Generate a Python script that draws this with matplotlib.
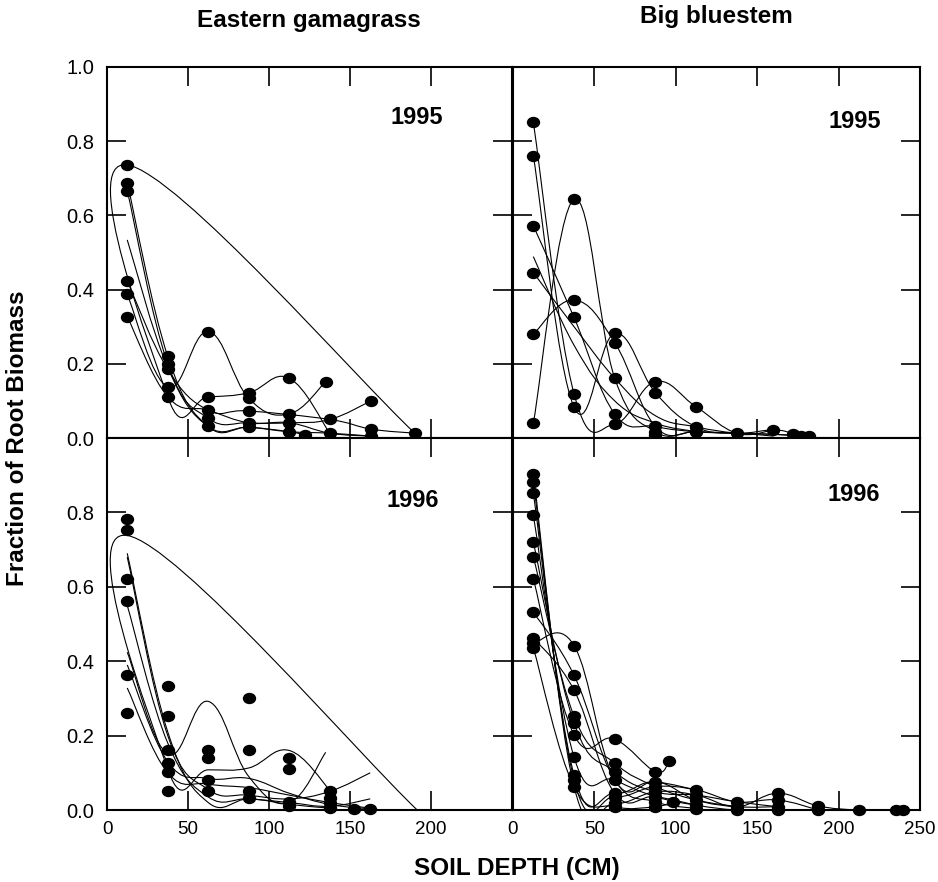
import numpy as np
import matplotlib
matplotlib.use("Agg")
import matplotlib.pyplot as plt
from matplotlib.path import Path
from matplotlib.patches import PathPatch
import matplotlib.transforms as mtransforms

plt.rcParams['font.family'] = ['Liberation Sans', 'DejaVu Sans']

# ---- Eastern gamagrass 1995 ----
eg95_dot_x = [12.5] * 6 + [37.5] * 5 + [62.5] * 5 + [87.5] * 5 + [112.5] * 4 + [122, 135, 137.5, 137.5, 163, 163, 163, 190]
eg95_dot_y = [0.736, 0.688, 0.667, 0.423, 0.387, 0.327,
              0.22, 0.20, 0.185, 0.137, 0.111,
              0.287, 0.111, 0.075, 0.053, 0.031,
              0.122, 0.107, 0.073, 0.041, 0.029,
              0.161, 0.065, 0.041, 0.017,
              0.008, 0.152, 0.05, 0.013, 0.1, 0.024, 0.005, 0.013]
eg95_lines = [
    ([190, 12.5, 37.5, 62.5, 87.5, 112.5, 137.5], [0.013, 0.736, 0.111, 0.111, 0.122, 0.161, 0.013]),
    ([12.5, 37.5, 62.5, 87.5, 112.5, 122], [0.688, 0.22, 0.031, 0.029, 0.017, 0.008]),
    ([12.5, 37.5, 62.5, 87.5, 112.5, 137.5, 163], [0.667, 0.20, 0.053, 0.041, 0.041, 0.05, 0.1]),
    ([12.5, 37.5, 62.5, 87.5, 112.5, 135], [0.387, 0.137, 0.287, 0.107, 0.065, 0.152]),
    ([12.5, 37.5, 62.5, 87.5, 137.5, 163, 190], [0.423, 0.185, 0.075, 0.073, 0.05, 0.024, 0.013]),
    ([12.5, 37.5, 62.5, 87.5, 112.5, 137.5, 163], [0.327, 0.111, 0.075, 0.041, 0.041, 0.013, 0.005]),
    ([12.5, 37.5, 62.5, 87.5, 112.5, 137.5, 163], [0.534, 0.19, 0.031, 0.029, 0.017, 0.013, 0.005]),
]

# ---- Eastern gamagrass 1996 ----
eg96_dot_x = [12.5] * 6 + [37.5] * 6 + [62.5] * 4 + [87.5] * 4 + [112.5] * 4 + [137.5] * 4 + [152.5, 162.5]
eg96_dot_y = [0.782, 0.752, 0.62, 0.561, 0.362, 0.262,
              0.332, 0.252, 0.162, 0.126, 0.103, 0.052,
              0.162, 0.141, 0.081, 0.052,
              0.301, 0.162, 0.052, 0.031,
              0.141, 0.11, 0.022, 0.012,
              0.052, 0.031, 0.018, 0.005,
              0.002, 0.002]
eg96_lines = [
    ([191.5, 12.5, 37.5, 62.5, 87.5, 112.5, 137.5], [0.0, 0.738, 0.11, 0.108, 0.113, 0.16, 0.054]),
    ([12.5, 37.5, 62.5, 87.5, 112.5, 137.5], [0.69, 0.21, 0.02, 0.03, 0.015, 0.005]),
    ([12.5, 37.5, 62.5, 87.5, 112.5, 137.5, 162.5], [0.68, 0.2, 0.055, 0.04, 0.03, 0.05, 0.1]),
    ([12.5, 37.5, 62.5, 87.5, 112.5, 135], [0.424, 0.15, 0.292, 0.09, 0.02, 0.155]),
    ([12.5, 37.5, 62.5, 87.5, 112.5, 137.5, 162.5], [0.39, 0.13, 0.085, 0.085, 0.045, 0.015, 0.003]),
    ([12.5, 37.5, 62.5, 87.5, 112.5, 137.5, 162.5], [0.328, 0.1, 0.07, 0.06, 0.04, 0.02, 0.005]),
    ([12.5, 37.5, 62.5, 87.5, 112.5, 137.5, 162.5], [0.55, 0.18, 0.035, 0.03, 0.02, 0.01, 0.03]),
]

# ---- Big bluestem 1995 ----
bb95_dot_x = [12.5] * 6 + [37.5] * 5 + [62.5] * 5 + [87.5] * 5 + [112.5] * 3 + [137.5, 160, 172, 177, 182]
bb95_dot_y = [0.851, 0.761, 0.572, 0.446, 0.28, 0.04,
              0.643, 0.372, 0.325, 0.119, 0.083,
              0.282, 0.257, 0.161, 0.065, 0.038,
              0.152, 0.122, 0.031, 0.017, 0.008,
              0.084, 0.03, 0.017,
              0.013, 0.022, 0.012, 0.005, 0.005]
bb95_lines = [
    ([12.5, 37.5, 62.5, 87.5, 112.5, 137.5], [0.04, 0.643, 0.161, 0.017, 0.017, 0.013]),
    ([12.5, 37.5, 62.5, 87.5, 112.5, 137.5, 160], [0.851, 0.119, 0.038, 0.152, 0.084, 0.013, 0.022]),
    ([12.5, 37.5, 62.5, 87.5, 112.5, 137.5, 160, 172], [0.761, 0.083, 0.282, 0.122, 0.03, 0.013, 0.022, 0.012]),
    ([12.5, 37.5, 62.5, 87.5, 112.5, 137.5, 160], [0.572, 0.325, 0.065, 0.031, 0.017, 0.013, 0.005]),
    ([12.5, 37.5, 62.5, 87.5, 112.5, 137.5, 160, 177], [0.28, 0.372, 0.257, 0.031, 0.017, 0.013, 0.01, 0.005]),
    ([12.5, 37.5, 62.5, 87.5, 112.5, 137.5, 160, 182], [0.446, 0.30, 0.161, 0.06, 0.03, 0.013, 0.01, 0.005]),
    ([12.5, 37.5, 62.5, 87.5, 112.5], [0.489, 0.25, 0.1, 0.04, 0.017]),
]

# ---- Big bluestem 1996 ----
bb96_dot_x = ([12.5] * 11 + [37.5] * 10 + [62.5] * 8 + [87.5] * 7 + [96, 98] + [112.5] * 5
              + [137.5] * 3 + [162.5] * 4 + [187.5] * 2 + [212.5, 235.5, 239.5])
bb96_dot_y = [0.903, 0.882, 0.852, 0.792, 0.72, 0.681, 0.622, 0.532, 0.463, 0.449, 0.436,
              0.442, 0.362, 0.322, 0.252, 0.234, 0.202, 0.142, 0.094, 0.081, 0.063,
              0.191, 0.126, 0.103, 0.081, 0.045, 0.036, 0.018, 0.009,
              0.103, 0.076, 0.063, 0.049, 0.036, 0.022, 0.009,
              0.133, 0.022,
              0.054, 0.04, 0.027, 0.013, 0.004,
              0.022, 0.009, 0.0,
              0.045, 0.027, 0.009, 0.0,
              0.011, 0.0,
              0.0, 0.0, 0.0]
depths = [12.5, 37.5, 62.5, 87.5, 112.5, 137.5, 162.5, 187.5, 212.5, 237.5]
bb96_lines = [
    (depths, [0.903, 0.063, 0.018, 0.049, 0.040, 0.009, 0.045, 0.011, 0.0, 0.0]),
    (depths[:8], [0.882, 0.081, 0.036, 0.063, 0.054, 0.022, 0.027, 0.0]),
    (depths[:7], [0.852, 0.094, 0.045, 0.076, 0.027, 0.009, 0.009]),
    (depths[:7], [0.792, 0.142, 0.081, 0.036, 0.013, 0.0, 0.0]),
    (depths[:7], [0.72, 0.234, 0.103, 0.049, 0.040, 0.022, 0.009]),
    (depths[:6], [0.681, 0.252, 0.126, 0.063, 0.027, 0.009]),
    ([12.5, 37.5, 62.5, 87.5, 96], [0.622, 0.202, 0.191, 0.103, 0.133]),
    (depths[:5], [0.532, 0.362, 0.081, 0.022, 0.004]),
    (depths[:5], [0.463, 0.322, 0.045, 0.036, 0.013]),
    (depths[:5], [0.449, 0.442, 0.081, 0.076, 0.054]),
    ([12.5, 37.5, 62.5, 87.5, 98], [0.436, 0.063, 0.009, 0.009, 0.022]),
]


def smooth_path(xs, ys, k=0.2):
    # catmull-rom style curve through the points, drawn as bezier segments
    pts = np.column_stack([xs, ys]).astype(float)
    ext = np.vstack([pts[0], pts, pts[-1]])
    verts = [pts[0]]
    codes = [Path.MOVETO]
    for i in range(len(pts) - 1):
        p0, p1, p2, p3 = ext[i], ext[i + 1], ext[i + 2], ext[i + 3]
        verts += [p1 + (p2 - p0) * k, p2 - (p3 - p1) * k, p2]
        codes += [Path.CURVE4] * 3
    return Path(verts, codes)


dot = Path.unit_circle().transformed(mtransforms.Affine2D().scale(1.2, 1.0))

fig = plt.figure(figsize=(9.38, 8.82), dpi=100)
W, H = 938, 882
ax_tl = fig.add_axes([107 / W, (H - 438) / H, 405 / W, 371 / H])
ax_tr = fig.add_axes([513 / W, (H - 438) / H, 407 / W, 371 / H])
ax_bl = fig.add_axes([107 / W, (H - 810) / H, 405 / W, 372 / H])
ax_br = fig.add_axes([513 / W, (H - 810) / H, 407 / W, 372 / H])

panels = [
    (ax_tl, eg95_dot_x, eg95_dot_y, eg95_lines, '1995', (191, 0.865)),
    (ax_tr, bb95_dot_x, bb95_dot_y, bb95_lines, '1995', (210, 0.853)),
    (ax_bl, eg96_dot_x, eg96_dot_y, eg96_lines, '1996', (189, 0.831)),
    (ax_br, bb96_dot_x, bb96_dot_y, bb96_lines, '1996', (209.5, 0.849)),
]

for ax, dx, dy, lines, year, pos in panels:
    for lx, ly in lines:
        ax.add_patch(PathPatch(smooth_path(lx, ly), facecolor='none',
                               edgecolor='black', linewidth=0.8))
    ax.plot(dx, dy, linestyle='none', marker=dot, markersize=8.6,
            color='black', clip_on=False, zorder=3)
    ax.text(pos[0], pos[1], year, ha='center', va='center',
            fontsize=17, fontweight='bold')
    ax.set_xlim(0, 250)
    ax.set_ylim(0, 1.0)
    ax.set_xticks([0, 50, 100, 150, 200, 250])
    ax.set_yticks([0, 0.2, 0.4, 0.6, 0.8, 1.0])
    ax.tick_params(direction='in', length=14, width=1.2, top=True, right=True,
                   labelsize=14.5, pad=9)
    for s in ax.spines.values():
        s.set_linewidth(1.5)

ax_tl.set_xticklabels([])
ax_tr.set_xticklabels([])
ax_tr.set_yticklabels([])
ax_br.set_yticklabels([])
ax_tl.set_yticklabels(['0.0', '0.2', '0.4', '0.6', '0.8', '1.0'])
ax_bl.set_yticklabels(['0.0', '0.2', '0.4', '0.6', '0.8', ''])
ax_bl.set_xticklabels(['0', '50', '100', '150', '200', ''])
ax_br.set_xticklabels(['0', '50', '100', '150', '200', '250'])
for ax in (ax_bl, ax_br):
    ax.tick_params(axis='x', pad=8, labelsize=13.5)

fig.text(309 / W, 1 - 21 / H, 'Eastern gamagrass', ha='center', va='center',
         fontsize=17.5, fontweight='bold')
fig.text(716 / W, 1 - 17 / H, 'Big bluestem', ha='center', va='center',
         fontsize=17.5, fontweight='bold')
fig.text(18 / W, 1 - 438 / H, 'Fraction of Root Biomass', rotation=90,
         ha='center', va='center', fontsize=17.5, fontweight='bold')
fig.text(517 / W, 1 - 868 / H, 'SOIL DEPTH (CM)', ha='center', va='center',
         fontsize=17.5, fontweight='bold')

fig.savefig('out.png', dpi=100)
